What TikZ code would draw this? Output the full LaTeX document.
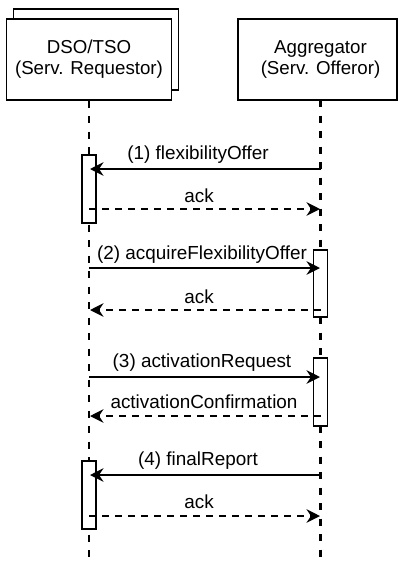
\documentclass[tikz,border=0pt]{standalone}
\usepackage{fontspec}
\setmainfont{Liberation Sans}
\usetikzlibrary{arrows.meta}
\begin{document}
\begin{tikzpicture}[x=1pt,y=-1pt,
  actor/.style={draw=black, line width=1.2pt, fill=white, minimum width=165pt, minimum height=81pt, inner sep=0pt,
    align=center, font=\fontsize{18.7}{21}\selectfont},
  boxtext/.style={align=center, font=\fontsize{18.7}{21}\selectfont, inner sep=0pt},
  life/.style={draw=black, line width=2.6pt, dash pattern=on 7pt off 8.5pt},
  act/.style={draw=black, line width=1.2pt, fill=white, minimum width=14pt, inner sep=0pt},
  msg/.style={draw=black, line width=2.2pt, -{Stealth[length=13.5pt,width=13.5pt,inset=4.5pt]}},
  reply/.style={msg, dash pattern=on 7pt off 6pt},
  lbl/.style={anchor=base, font=\fontsize{18.9}{21}\selectfont, inner sep=0pt}
]
\useasboundingbox (0,0) rectangle (398,563);
\fill[white] (0,0) rectangle (398,563);

% actors
\node[actor] (dsoback) at (96,49.5) {};
\node[actor] (dso) at (89,59.5) {DSO/TSO\\(Serv. Requestor)};
\node[actor, minimum width=159pt] (aggbox) at (317.5,59.5) {};
\node[boxtext] (agg) at (320.5,59.5) {Aggregator\\(Serv. Offeror)};

% lifelines
\coordinate (dsoend) at (89,563);
\coordinate (aggtop) at (320.5,100);
\coordinate (aggend) at (320.5,563);
\draw[life] (dso.south) -- (dsoend);
\draw[life] (aggtop) -- (aggend);

% activation boxes
\node[act, minimum height=68pt] (actA) at (89,189) {};
\node[act, minimum height=67pt] (actB) at (320.5,283.5) {};
\node[act, minimum height=68pt] (actC) at (320.5,392) {};
\node[act, minimum height=68pt] (actD) at (89,495) {};

% message end points
\coordinate (r1) at (320.5,169); \coordinate (l1) at (90,169);
\coordinate (l2) at (89,209);    \coordinate (r2) at (320,209);
\coordinate (l3) at (89,268);    \coordinate (r3) at (320,268);
\coordinate (r4) at (320.5,310); \coordinate (l4) at (90,310);
\coordinate (l5) at (89,377);    \coordinate (r5) at (320,377);
\coordinate (r6) at (320.5,416); \coordinate (l6) at (90,416);
\coordinate (r7) at (320.5,475); \coordinate (l7) at (90,475);
\coordinate (l8) at (89,516);    \coordinate (r8) at (320,516);

% messages
\draw[msg]   (r1) -- (l1);
\draw[reply] (l2) -- (r2);
\draw[msg]   (l3) -- (r3);
\draw[reply] (r4) -- (l4);
\draw[msg]   (l5) -- (r5);
\draw[reply] (r6) -- (l6);
\draw[msg]   (r7) -- (l7);
\draw[reply] (l8) -- (r8);

% labels
\node[lbl] (t1) at (198,159) {(1) flexibilityOffer};
\node[lbl] (t2) at (199,202) {ack};
\node[lbl] (t3) at (202,259) {(2) acquireFlexibilityOffer};
\node[lbl] (t4) at (199,303) {ack};
\node[lbl] (t5) at (202,367) {(3) activationRequest};
\node[lbl] (t6) at (204,408) {activationConfirmation};
\node[lbl] (t7) at (198,465) {(4) finalReport};
\node[lbl] (t8) at (199,508) {ack};
\end{tikzpicture}
\end{document}
